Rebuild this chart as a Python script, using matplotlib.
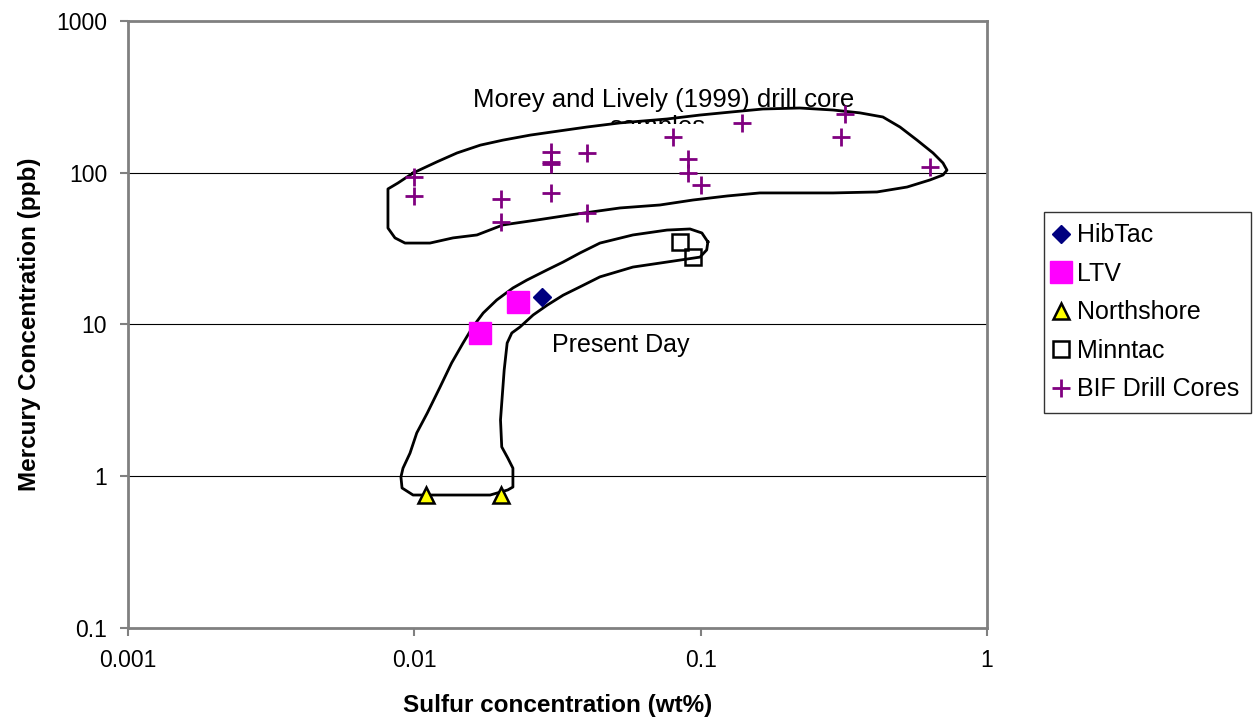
import numpy as np
import matplotlib.pyplot as plt
from matplotlib.transforms import Bbox, TransformedBbox

plt.rcParams['font.family'] = ['Liberation Sans', 'DejaVu Sans']

# --- data (sulfur wt%, mercury ppb) ---
hibtac_s = [0.028]
hibtac_hg = [15.2]

ltv_s = [0.017, 0.023]
ltv_hg = [8.8, 14.1]

northshore_s = [0.011, 0.020]
northshore_hg = [0.75, 0.75]

minntac_s = [0.085, 0.094]
minntac_hg = [35.1, 28.0]

bif_s = [0.01, 0.01, 0.02, 0.02, 0.03, 0.03, 0.03, 0.03, 0.04, 0.04,
         0.08, 0.09, 0.09, 0.1, 0.14, 0.31, 0.32, 0.63]
bif_hg = [94, 70, 67, 47, 137, 118, 114, 74, 135, 54,
          172, 123, 100, 83, 213, 172, 244, 109]

# hand-drawn outline: Morey and Lively drill cores
core_s = [0.0099, 0.012, 0.0141, 0.017, 0.0204, 0.0254, 0.0305, 0.040, 0.0523,
          0.0763, 0.0995, 0.127, 0.165, 0.222, 0.29, 0.36, 0.433, 0.497, 0.570,
          0.648, 0.702, 0.725, 0.702, 0.632, 0.526, 0.413, 0.29, 0.161, 0.124,
          0.094, 0.0721, 0.0523, 0.035, 0.0268, 0.0204, 0.01655, 0.01365,
          0.01134, 0.00928, 0.00856, 0.00809, 0.00809, 0.00877, 0.0099]
core_hg = [99.6, 118, 135, 152, 164, 177, 186, 200, 213,
           226, 240, 251, 263, 267, 259, 248, 233, 200, 164,
           135, 116, 104, 96.6, 89.6, 80.5, 74.7, 73.6, 73.6, 70.3,
           66.1, 61.3, 58.6, 52.7, 48.8, 45.3, 38.9, 37.2,
           34.4, 34.4, 37.2, 43.2, 78.2, 85.6, 99.6]

# hand-drawn outline: present day
today_s = [0.106, 0.101, 0.0918, 0.0763, 0.058, 0.0445, 0.0379, 0.0331, 0.0291,
           0.0247, 0.0221, 0.0194, 0.0174, 0.0160, 0.0148, 0.0135, 0.0123,
           0.0111, 0.0102, 0.00966, 0.00913, 0.00898, 0.00906, 0.0099, 0.0184,
           0.0212, 0.0221, 0.0221, 0.0212, 0.0202, 0.0200, 0.0202, 0.0206,
           0.0211, 0.0219, 0.0234, 0.0260, 0.0291, 0.0331, 0.0379, 0.0445,
           0.058, 0.0763, 0.0995, 0.105, 0.106]
today_hg = [35.0, 40.1, 42.6, 41.9, 38.9, 34.4, 29.6, 25.8, 22.9,
            19.6, 17.4, 14.5, 11.9, 9.63, 7.55, 5.58, 3.87,
            2.61, 1.93, 1.42, 1.13, 0.989, 0.837, 0.752, 0.752,
            0.812, 0.849, 1.13, 1.32, 1.56, 2.35, 3.04, 5.01,
            7.55, 8.79, 9.63, 11.55, 13.4, 15.6, 17.7, 20.6,
            23.9, 25.8, 27.8, 31.0, 35.0]

x_ticks = [0.001, 0.01, 0.1, 1]
x_labels = ['0.001', '0.01', '0.1', '1']
y_ticks = [0.1, 1, 10, 100, 1000]
y_labels = ['0.1', '1', '10', '100', '1000']

fig = plt.figure(figsize=(12.56, 7.21), dpi=100)
ax = fig.add_axes([0.1019, 0.129, 0.6839, 0.8419])

ax.set_xscale('log')
ax.set_yscale('log')
ax.set_xlim(0.001, 1)
ax.set_ylim(0.1, 1000)

# gridlines
for v in y_ticks[1:-1]:
    ax.axhline(v, color='black', lw=0.8, zorder=1)

# outlines
ax.plot(core_s, core_hg, color='black', lw=2.0, zorder=2)
ax.plot(today_s, today_hg, color='black', lw=2.0, zorder=2)

# series
ax.plot(hibtac_s, hibtac_hg, ls='none', marker='D', ms=9.5, color='#000080',
        label='HibTac', zorder=4)
ax.plot(ltv_s, ltv_hg, ls='none', marker='s', ms=16, color='#FF00FF',
        label='LTV', zorder=4)
ax.plot(northshore_s, northshore_hg, ls='none', marker='^', ms=12,
        mfc='#FFFF00', mec='black', mew=1.8, label='Northshore', zorder=4)
ax.plot(minntac_s, minntac_hg, ls='none', marker='s', ms=12, mfc='none',
        mec='black', mew=1.8, label='Minntac', zorder=4)
ax.plot(bif_s, bif_hg, ls='none', marker='+', ms=13, mew=2, color='#800080',
        label='BIF Drill Cores', zorder=4)

# text labels
ax.text(0.0745, 300, 'Morey and Lively (1999) drill core', ha='center',
        va='center', fontsize=18.5, zorder=3)
# second line is mostly hidden in the original, only its top shows
t2 = ax.text(0.0704, 199, 'samples', ha='center', va='center', fontsize=18.5,
             zorder=3)
t2.set_clip_on(True)
t2.set_clip_box(TransformedBbox(Bbox([[0.3, 0.828], [0.7, 0.86]]),
                                fig.transFigure))
ax.text(0.0303, 7.3, 'Present Day', ha='left', va='center', fontsize=18)

# axes styling
ax.set_xticks(x_ticks)
ax.set_xticklabels(x_labels)
ax.set_yticks(y_ticks)
ax.set_yticklabels(y_labels)
ax.minorticks_off()
ax.tick_params(direction='out', length=6, width=1.5, color='#808080',
               labelsize=16.5, pad=9)
for sp in ax.spines.values():
    sp.set_color('#808080')
    sp.set_linewidth(2)

ax.set_xlabel('Sulfur concentration (wt%)', fontsize=17.5, fontweight='bold',
              labelpad=16)
ax.set_ylabel('Mercury Concentration (ppb)', fontsize=17.5, fontweight='bold',
              labelpad=11)

leg = ax.legend(loc='center left', bbox_to_anchor=(0.831, 0.5666),
                bbox_transform=fig.transFigure, fontsize=18, frameon=True,
                fancybox=False, edgecolor='black', handlelength=0.5,
                handletextpad=0.4, labelspacing=0.58, borderpad=0.45,
                borderaxespad=0)
leg.get_frame().set_linewidth(1.0)

fig.savefig('out.png', dpi=100)
